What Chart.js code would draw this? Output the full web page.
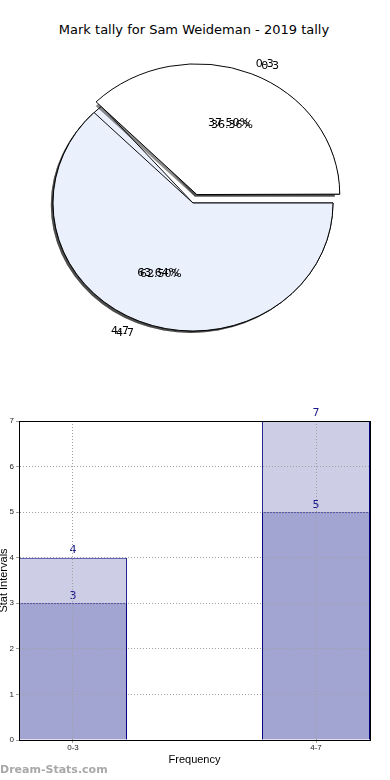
<!DOCTYPE html>
<html>
<head>
<meta charset="utf-8">
<script src="https://cdn.jsdelivr.net/npm/chart.js@4"></script>
<style>
  body { margin: 0; width: 390px; height: 780px; position: relative; background: #fff; overflow: hidden; font-family: "DejaVu Sans", sans-serif; }
  #title { position: absolute; top: 22px; left: 0; width: 388px; text-align: center; font-size: 13px; color: #000; }
  .pie { position: absolute; left: 0; top: 0; }
  #bar { position: absolute; left: 0; top: 400px; }
  #mark { position: absolute; left: 0; top: 763px; font-size: 11px; font-weight: bold; color: #a8a8a8; }
</style>
</head>
<body>
<div id="title">Mark tally for Sam Weideman - 2019 tally</div>
<canvas id="pieBack" class="pie" width="390" height="406"></canvas>
<canvas id="pieFront" class="pie" width="390" height="406"></canvas>
<canvas id="bar" width="390" height="380"></canvas>
<div id="mark">Dream-Stats.com</div>
<script>
// data
const categories = ['0-3', '4-7'];
const talliesFront = [3, 5];
const talliesBack = [4, 7];
const yTicks = [0, 1, 2, 3, 4, 5, 6, 7];

// looks
const sliceColors = ['#ffffff', '#ebf0fd'];
const SQUASH = 128 / 140;   // the original pie is a bit flattened
const PIE_R = 140;
const EXPLODE = 10;

const pies = [];

function explodeOf(arc) {
    return (arc.options.offset || 0) / 4;
}

function drawPieLabels(chart, ctx) {
    const arcs = chart.getDatasetMeta(0).data;
    const vals = chart.data.datasets[0].data;
    const total = vals.reduce((s, v) => s + v, 0);
    arcs.forEach((a, i) => {
        const mid = (a.startAngle + a.endAngle) / 2;
        const off = explodeOf(a);
        const dx = Math.cos(mid), dy = Math.sin(mid) * SQUASH;
        const ox = a.x + dx * off, oy = a.y + dy * off;
        ctx.textAlign = 'center';
        ctx.fillText((vals[i] / total * 100).toFixed(2) + '%', ox + dx * 0.6 * PIE_R, oy + dy * 0.6 * PIE_R);
        ctx.textAlign = dx >= 0 ? 'left' : 'right';
        ctx.fillText(chart.data.labels[i], ox + dx * 1.1 * PIE_R, oy + dy * 1.1 * PIE_R);
    });
}

const ellipsePie = {
    id: 'ellipsePie',
    beforeDatasetsDraw(chart) {
        const ctx = chart.ctx;
        const arcs = chart.getDatasetMeta(0).data;
        const cx = arcs[0].x, cy = arcs[0].y;
        ctx.save();
        ctx.translate(cx, cy);
        ctx.scale(1, SQUASH);
        ctx.translate(-cx, -cy);
        // drop shadow under every wedge
        arcs.forEach(a => {
            const mid = (a.startAngle + a.endAngle) / 2;
            const off = explodeOf(a);
            ctx.save();
            ctx.translate(Math.cos(mid) * off - 2.2, Math.sin(mid) * off + 2.2);
            ctx.beginPath();
            ctx.moveTo(a.x, a.y);
            ctx.arc(a.x, a.y, a.outerRadius, a.startAngle, a.endAngle);
            ctx.closePath();
            ctx.fillStyle = 'rgba(0,0,0,0.45)';
            ctx.fill();
            ctx.restore();
        });
    },
    afterDatasetsDraw(chart) {
        chart.ctx.restore();
    },
    afterDraw(chart) {
        // the top pie writes the labels of both pies, so none get hidden
        if (chart.canvas.id !== 'pieFront') return;
        const ctx = chart.ctx;
        ctx.save();
        ctx.font = '11px "DejaVu Sans"';
        ctx.fillStyle = '#000';
        ctx.textBaseline = 'middle';
        pies.forEach(p => drawPieLabels(p, ctx));
        drawPieLabels(chart, ctx);
        ctx.restore();
    }
};

function makePie(id, values) {
    const order = [1, 0]; // 4-7 first so 0-3 ends at 3 o'clock
    return new Chart(document.getElementById(id), {
        type: 'pie',
        data: {
            labels: order.map(i => categories[i]),
            datasets: [{
                data: order.map(i => values[i]),
                backgroundColor: order.map(i => sliceColors[i]),
                borderColor: '#000',
                borderWidth: 1,
                offset: order.map(i => i === 0 ? EXPLODE * 4 : 0)
            }]
        },
        options: {
            animation: false,
            responsive: false,
            rotation: 90,
            radius: PIE_R,
            layout: { padding: { right: 4 } },
            plugins: { legend: { display: false }, tooltip: { enabled: false } }
        },
        plugins: [ellipsePie]
    });
}

pies.push(makePie('pieBack', talliesBack));
makePie('pieFront', talliesFront);

const frame = {
    id: 'frame',
    afterDraw(chart) {
        const ctx = chart.ctx;
        const a = chart.chartArea;
        ctx.save();
        ctx.strokeStyle = '#000';
        ctx.lineWidth = 1;
        ctx.strokeRect(Math.round(a.left) + 0.5, Math.round(a.top) + 0.5, Math.round(a.right - a.left), Math.round(a.bottom - a.top));
        ctx.restore();
    }
};

const barValues = {
    id: 'barValues',
    afterDatasetsDraw(chart) {
        const ctx = chart.ctx;
        ctx.save();
        ctx.font = '11px "DejaVu Sans"';
        ctx.fillStyle = '#1a1a8c';
        ctx.textAlign = 'center';
        ctx.textBaseline = 'bottom';
        chart.data.datasets.forEach((ds, di) => {
            chart.getDatasetMeta(di).data.forEach((bar, i) => {
                ctx.fillText(ds.data[i].y, bar.x, bar.y - 2);
            });
        });
        ctx.restore();
    }
};

new Chart(document.getElementById('bar'), {
    type: 'bar',
    data: {
        datasets: [{
            data: talliesFront.map((v, i) => ({ x: i, y: v })),
            backgroundColor: '#a2a4d1',
            borderColor: '#000080',
            borderWidth: 1,
            grouped: false,
            barPercentage: 1,
            categoryPercentage: 0.444
        }, {
            data: talliesBack.map((v, i) => ({ x: i, y: v })),
            backgroundColor: '#cdcde6',
            borderColor: '#000080',
            borderWidth: 1,
            grouped: false,
            barPercentage: 1,
            categoryPercentage: 0.444
        }]
    },
    options: {
        animation: false,
        responsive: false,
        layout: { padding: { top: 21, right: 20, left: 0, bottom: 0 } },
        plugins: { legend: { display: false }, tooltip: { enabled: false } },
        scales: {
            x: {
                type: 'linear',
                min: -0.222,
                max: 1.222,
                offset: false,
                afterBuildTicks: s => { s.ticks = categories.map((c, i) => ({ value: i })); },
                afterFit: s => { s.height = 40; },
                ticks: { callback: v => categories[v], font: { size: 8 }, color: '#222', padding: 0, maxRotation: 0 },
                grid: { color: '#a0a0a0', tickLength: 3, z: 1, offset: false },
                border: { color: '#000', dash: [1, 2], z: 1 },
                title: { display: true, text: 'Frequency', font: { size: 11 }, color: '#000', padding: { top: 0, bottom: 13 } }
            },
            y: {
                min: 0,
                max: 7,
                afterBuildTicks: s => { s.ticks = yTicks.map(v => ({ value: v })); },
                afterFit: s => { s.width = 19; },
                ticks: { font: { size: 8 }, color: '#222', padding: 2 },
                grid: { color: '#a0a0a0', tickLength: 3, z: 1 },
                border: { color: '#000', dash: [1, 2], z: 1 },
                title: { display: true, text: 'Stat Intervals', font: { size: 11 }, color: '#000', padding: { top: -3, bottom: 0 } }
            }
        }
    },
    plugins: [barValues, frame]
});
</script>
</body>
</html>
